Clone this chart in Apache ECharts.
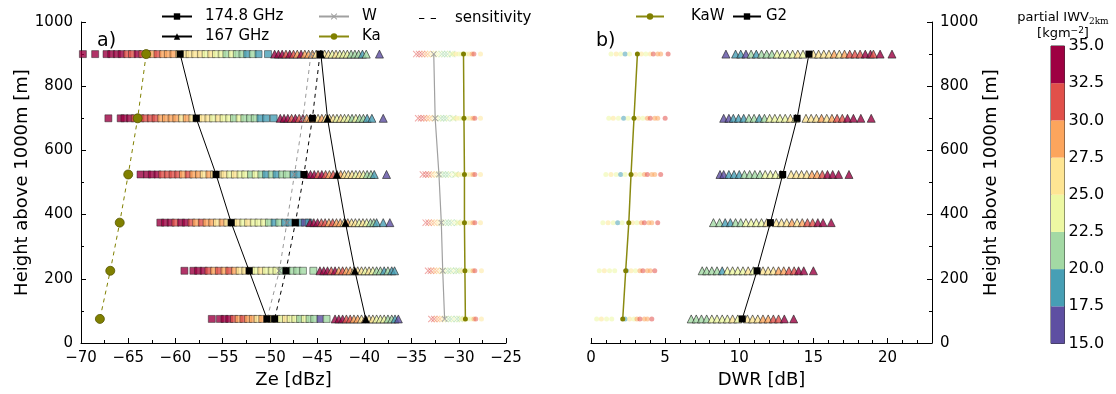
<!DOCTYPE html>
<html><head><meta charset="utf-8">
<script src="https://cdn.jsdelivr.net/npm/echarts@6/dist/echarts.min.js"></script>
<style>html,body{margin:0;padding:0;background:#fff}#c{width:1116px;height:394px}</style>
</head><body><div id="c"></div>
<script>
// ---- heights of the rows (m above 1000 m) ----
const heights = [900, 700, 525, 375, 225, 75];
// ---- colour scale (partial IWV 2km) ----
const cbEdges = [15, 17.5, 20, 22.5, 25, 27.5, 30, 32.5, 35];
const cbColors = ['#5e4fa2', '#479fb5', '#a3d9a4', '#edf8a3', '#fee593', '#fca55d', '#e1504a', '#9e0142'];

// ---- 174.8 GHz Ze [dBz, IWV] per row ----
const sq900 = [[-69.8,34],[-68.5,34],[-67.3,34],[-66.8,33],[-66.2,34],[-65.7,33],[-65.1,32],[-64.6,31],[-64.0,34],[-63.5,31],[-63.0,30],[-62.4,29],[-61.9,31],[-61.3,28],[-60.8,29],[-60.2,28],[-59.6,27],[-59.0,26],[-58.5,27],[-57.9,26],[-57.3,25],[-56.8,24],[-56.2,26],[-55.7,24],[-55.1,23],[-54.6,22],[-54.0,23],[-53.5,21],[-52.9,21],[-52.4,19],[-51.8,20],[-51.2,19],[-50.2,18]];
const sq700 = [[-67.1,34],[-65.8,34],[-65.4,33],[-64.8,34],[-64.3,31],[-63.7,32],[-63.2,31],[-62.6,30],[-62.1,31],[-61.5,29],[-61.0,28],[-60.4,29],[-59.9,28],[-59.3,27],[-58.8,28],[-58.2,26],[-57.6,27],[-57.1,25],[-56.5,26],[-56.0,24],[-55.4,25],[-54.9,24],[-54.3,23],[-53.8,22],[-53.2,23],[-52.7,21],[-52.1,21],[-51.6,20],[-51.0,19],[-50.4,19],[-49.6,18]];
const sq525 = [[-63.7,34],[-63.0,34],[-62.5,33],[-61.9,34],[-61.4,32],[-60.8,31],[-60.3,32],[-59.7,30],[-59.2,29],[-58.6,31],[-58.1,28],[-57.5,29],[-57.0,27],[-56.4,28],[-55.9,26],[-55.3,25],[-54.8,26],[-54.2,24],[-53.7,25],[-53.1,23],[-52.6,24],[-52.0,22],[-51.5,23],[-50.9,21],[-50.4,19],[-49.8,20],[-49.3,19],[-48.7,21],[-48.2,20],[-47.5,19],[-47.0,18]];
const sq375 = [[-61.6,34],[-61.1,33],[-60.5,34],[-60.0,32],[-59.4,34],[-58.9,33],[-58.3,31],[-57.8,29],[-57.2,30],[-56.7,28],[-56.1,29],[-55.6,27],[-55.0,28],[-54.5,26],[-53.9,25],[-53.4,26],[-52.8,24],[-52.3,25],[-51.7,23],[-51.2,24],[-50.6,23],[-50.1,22],[-49.5,19],[-49.0,21],[-48.4,19],[-47.9,18],[-47.3,20],[-46.8,19],[-46.3,16],[-45.9,18]];
const sq225 = [[-59.05,34],[-58.1,34],[-57.6,33],[-57.0,34],[-56.5,32],[-55.9,29],[-55.4,31],[-54.8,28],[-54.3,30],[-53.7,28],[-53.2,26],[-52.6,25],[-52.0,26],[-51.5,24],[-50.9,25],[-50.4,23],[-49.8,24],[-49.3,23],[-48.7,22],[-48.2,21],[-47.6,21],[-47.1,20],[-46.5,21],[-45.4,21]];
const sq75 = [[-56.15,34],[-55.3,34],[-54.8,33],[-54.3,34],[-53.8,31],[-53.3,29],[-52.8,31],[-52.3,28],[-51.8,29],[-51.3,27],[-50.8,28],[-50.3,26],[-49.8,25],[-49.3,26],[-48.8,24],[-48.3,25],[-47.8,23],[-47.3,24],[-46.8,22],[-46.3,23],[-45.8,21],[-45.3,21],[-44.65,16],[-44.0,21]];

// ---- 167 GHz Ze ----
const tri900 = [[-49.5,34],[-49.1,33],[-48.7,34],[-48.3,31],[-47.9,33],[-47.5,31],[-47.1,29],[-46.7,34],[-46.3,28],[-45.9,29],[-45.5,28],[-45.1,27],[-44.6,26],[-44.2,26],[-43.8,25],[-43.4,24],[-43.0,26],[-42.6,24],[-42.2,23],[-41.8,24],[-41.4,22],[-41.0,21],[-40.6,21],[-40.2,19],[-39.8,20],[-38.4,16]];
const tri700 = [[-48.9,34],[-48.5,33],[-48.1,34],[-47.7,31],[-47.3,33],[-46.9,30],[-46.5,34],[-46.1,29],[-45.7,28],[-45.3,29],[-44.9,27],[-44.5,28],[-44.1,26],[-43.7,25],[-43.3,26],[-42.9,24],[-42.5,25],[-42.1,23],[-41.7,24],[-41.3,22],[-40.9,23],[-40.5,21],[-40.1,20],[-39.7,19],[-39.2,19],[-38.0,16]];
const tri525 = [[-46.1,34],[-45.7,33],[-45.3,34],[-44.9,31],[-44.5,33],[-44.1,32],[-43.7,29],[-43.3,30],[-42.9,28],[-42.5,29],[-42.1,27],[-41.7,26],[-41.3,25],[-40.9,24],[-40.5,26],[-40.1,23],[-39.7,22],[-39.3,21],[-38.95,18],[-37.65,16]];
const tri375 = [[-45.75,34],[-45.35,33],[-44.95,34],[-44.55,31],[-44.15,32],[-43.75,29],[-43.35,30],[-42.95,28],[-42.55,29],[-42.15,27],[-41.75,28],[-41.35,26],[-40.95,25],[-40.55,24],[-40.15,26],[-39.75,23],[-39.35,22],[-39.0,21],[-38.7,19],[-38.0,18],[-37.3,16]];
const tri225 = [[-44.7,34],[-44.3,33],[-43.9,34],[-43.5,32],[-43.1,33],[-42.7,29],[-42.3,31],[-41.9,28],[-41.5,29],[-41.1,27],[-40.7,26],[-40.3,25],[-39.9,24],[-39.5,26],[-39.1,23],[-38.7,22],[-38.3,21],[-37.9,19],[-37.5,20],[-37.1,18],[-36.8,19]];
const tri75 = [[-43.1,34],[-42.7,33],[-42.3,34],[-41.9,31],[-41.5,30],[-41.1,29],[-40.7,28],[-40.3,27],[-39.9,29],[-39.5,26],[-39.1,25],[-38.7,24],[-38.3,23],[-37.9,24],[-37.5,22],[-37.1,21],[-36.75,19],[-36.4,16]];

// ---- W-band Ze ----
const w900 = [[-34.5,32],[-34.2,31],[-33.9,30],[-33.6,29],[-33.3,28],[-33.0,27],[-32.7,25],[-32.4,24],[-32.1,23],[-31.8,21],[-31.5,22],[-31.2,21],[-30.9,23],[-30.7,21]];
const w700 = [[-34.3,32],[-34.0,31],[-33.7,30],[-33.4,29],[-33.1,28],[-32.8,26],[-32.5,25],[-32.2,23],[-31.9,22],[-31.6,21],[-31.3,22],[-31.0,23],[-30.6,21]];
const w525 = [[-33.8,32],[-33.5,31],[-33.2,30],[-32.9,28],[-32.6,27],[-32.3,25],[-32.0,24],[-31.7,22],[-31.4,21],[-31.1,22],[-30.8,23],[-30.35,21]];
const w375 = [[-33.5,32],[-33.2,31],[-32.9,29],[-32.6,28],[-32.3,26],[-32.0,25],[-31.7,23],[-31.4,22],[-31.1,21],[-30.8,22],[-30.5,23],[-30.15,21]];
const w225 = [[-33.25,32],[-32.95,31],[-32.65,29],[-32.35,28],[-32.05,26],[-31.75,24],[-31.45,23],[-31.15,21],[-30.85,22],[-30.55,23],[-30.25,21],[-30.0,22]];
const w75 = [[-32.9,32],[-32.6,31],[-32.3,29],[-32.0,28],[-31.7,26],[-31.4,24],[-31.1,22],[-30.8,21],[-30.5,23],[-30.2,22],[-29.9,21],[-29.7,23]];

// ---- Ka-band Ze ----
const ka900 = [[-30.6,24],[-30.3,25],[-30.0,24],[-29.7,23],[-29.2,24],[-28.9,25],[-28.6,29],[-28.4,30],[-27.7,26]];
const ka700 = [[-30.5,24],[-30.2,25],[-29.9,24],[-29.6,23],[-29.1,24],[-28.8,25],[-28.5,29],[-28.3,30],[-27.7,26]];
const ka525 = [[-30.3,24],[-30.0,25],[-29.7,24],[-29.1,23],[-28.8,25],[-28.5,29],[-28.3,30],[-27.7,26]];
const ka375 = [[-30.1,24],[-29.8,25],[-29.6,24],[-29.1,23],[-28.8,25],[-28.5,29],[-28.3,30],[-27.7,26]];
const ka225 = [[-29.9,24],[-29.6,25],[-29.1,24],[-28.8,23],[-28.5,29],[-28.3,30],[-27.6,26]];
const ka75 = [[-29.7,24],[-29.5,25],[-29.0,24],[-28.7,23],[-28.4,29],[-28.2,30],[-27.6,26]];

// ---- row means / sensitivities (dBz) ----
const mean174 = [-59.5, -57.8, -55.7, -54.1, -52.2, -50.3];
const mean167 = [-44.6, -43.9, -42.9, -42.0, -41.0, -39.85];
const meanW = [-32.65, -32.5, -32.1, -31.85, -31.7, -31.5];
const meanKa = [-29.5, -29.45, -29.4, -29.4, -29.35, -29.3];
const sensG = [-44.7, -45.5, -46.4, -47.3, -48.3, -49.5];
const sensW = [-45.65, -46.5, -47.4, -48.2, -49.0, -50.3];
const sensKa = [-63.1, -64.0, -65.0, -65.9, -66.9, -68.0];

// ---- DWR KaW [dB, IWV] ----
const kaw900 = [[1.35,24],[1.7,25],[2.0,24],[2.3,19],[2.6,24],[3.4,25],[3.7,24],[4.0,26],[4.2,31],[4.5,29],[4.7,28],[5.2,31]];
const kaw700 = [[1.2,24],[1.5,25],[1.85,24],[2.2,19],[2.5,24],[3.2,25],[3.5,24],[3.8,28],[4.0,30],[4.3,29],[4.5,28],[5.0,31]];
const kaw525 = [[1.0,24],[1.35,25],[1.7,24],[2.0,19],[2.3,24],[3.0,25],[3.3,24],[3.6,28],[3.8,30],[4.1,29],[4.3,28],[4.7,31]];
const kaw375 = [[0.8,24],[1.15,25],[1.5,24],[1.8,19],[2.1,24],[2.8,25],[3.1,24],[3.4,28],[3.6,30],[3.9,29],[4.1,28],[4.5,31]];
const kaw225 = [[0.56,24],[0.9,25],[1.25,24],[1.6,24],[2.4,19],[2.7,25],[3.0,24],[3.3,28],[3.5,30],[3.8,29],[4.0,28],[4.3,31]];
const kaw75 = [[0.38,24],[0.7,25],[1.05,24],[1.4,24],[2.3,19],[2.6,25],[2.9,24],[3.1,28],[3.3,30],[3.6,29],[3.8,28],[4.1,31]];

// ---- DWR G2 [dB, IWV] ----
const g2_900 = [[9.1,16],[9.75,18],[10.1,19],[10.45,17],[10.8,20],[11.15,19],[11.5,21],[11.85,22],[12.2,21],[12.55,23],[12.9,24],[13.25,23],[13.6,24],[13.95,25],[14.3,24],[15.0,26],[15.35,25],[15.7,27],[16.05,26],[16.4,28],[16.75,27],[17.1,29],[17.45,30],[17.8,31],[18.15,30],[18.5,33],[18.85,34],[19.05,32],[19.5,34],[20.3,34]];
const g2_700 = [[8.95,16],[9.3,17],[9.6,18],[9.95,19],[10.3,18],[10.65,20],[11.0,21],[11.35,19],[11.7,22],[12.05,23],[12.4,24],[12.75,23],[13.1,24],[13.45,25],[13.8,24],[14.5,26],[14.85,25],[15.2,27],[15.55,28],[15.9,27],[16.25,29],[16.6,30],[16.95,31],[17.3,33],[17.7,34],[18.2,34],[18.9,34]];
const g2_525 = [[8.7,16],[8.95,17],[9.3,18],[9.65,19],[10.0,18],[10.35,20],[10.7,21],[11.05,22],[11.4,21],[11.75,23],[12.1,24],[12.45,23],[12.8,24],[13.5,25],[13.85,26],[14.2,27],[14.55,26],[14.9,28],[15.25,29],[15.6,31],[15.95,33],[16.3,34],[16.7,34],[17.4,34]];
const g2_375 = [[8.26,21],[8.67,20],[9.05,18],[9.4,19],[9.75,21],[10.1,22],[10.45,23],[10.8,24],[11.15,23],[11.5,24],[11.85,25],[12.5,26],[12.85,25],[13.2,27],[13.55,28],[13.9,27],[14.25,29],[14.6,30],[14.95,31],[15.3,33],[15.65,34],[16.2,34]];
const g2_225 = [[7.5,21],[7.8,20],[8.15,21],[8.5,22],[8.85,19],[9.2,23],[9.55,24],[9.9,23],[10.25,24],[10.6,25],[10.95,24],[11.6,26],[11.95,25],[12.3,27],[12.65,28],[13.0,29],[13.35,30],[13.7,31],[14.0,33],[14.35,34],[15.0,34]];
const g2_75 = [[6.76,21],[7.1,20],[7.45,22],[7.8,21],[8.15,23],[8.5,24],[8.85,23],[9.2,24],[9.55,25],[9.9,24],[10.55,26],[10.9,25],[11.25,27],[11.6,28],[11.95,29],[12.3,30],[12.65,31],[13.04,34],[13.67,34]];

const meanKaW = [3.13, 2.9, 2.7, 2.55, 2.34, 2.14];
const meanG2 = [14.7, 13.9, 12.93, 12.1, 11.2, 10.2];

// ---------- helpers ----------
function colorOf(v){ for(let i=0;i<cbColors.length;i++){ if(v<cbEdges[i+1]) return cbColors[i]; } return cbColors[cbColors.length-1]; }
function rowsToData(rows){ const out=[]; rows.forEach((r,i)=>r.forEach(p=>out.push({value:[p[0],heights[i],p[1]], itemStyle:{color:colorOf(p[1])}}))); return out; }
function meanData(xs){ return xs.map((x,i)=>[x,heights[i]]); }
const xSym = 'path://M1,0 L5,4 L9,0 L10,1 L6,5 L10,9 L9,10 L5,6 L1,10 L0,9 L4,5 L0,1 Z';
const dashIcon = 'path://M0,0h5v1h-5z M11,0h5v1h-5z';
const FONT = 'DejaVu Sans';
const minus = v => String(v).replace('-', '\u2212');
const plain = v => String(v);

const chart = echarts.init(document.getElementById('c'), null, {renderer:'canvas'});

const axisCommon = {
  axisLine:{show:true, onZero:false, lineStyle:{color:'#000', width:1}},
  axisTick:{show:true, inside:true, length:5, lineStyle:{color:'#000'}},
  minorTick:{show:true, splitNumber:2, length:3, lineStyle:{color:'#000'}},
  splitLine:{show:false},
  axisLabel:{color:'#000', fontFamily:FONT, fontSize:15, formatter:plain},
  nameTextStyle:{color:'#000', fontFamily:FONT, fontSize:18}
};

const series = [
  {type:'scatter', xAxisIndex:0, yAxisIndex:0, symbol:'rect', symbolSize:7, z:2, data:rowsToData([sq900,sq700,sq525,sq375,sq225,sq75]), itemStyle:{borderColor:'#222', borderWidth:0.6}},
  {type:'scatter', xAxisIndex:0, yAxisIndex:0, symbol:'triangle', symbolSize:8, z:2, data:rowsToData([tri900,tri700,tri525,tri375,tri225,tri75]), itemStyle:{borderColor:'#222', borderWidth:0.8}},
  {type:'scatter', xAxisIndex:0, yAxisIndex:0, symbol:xSym, symbolSize:7, z:2, data:rowsToData([w900,w700,w525,w375,w225,w75]), itemStyle:{opacity:0.5}},
  {type:'scatter', xAxisIndex:0, yAxisIndex:0, symbol:'circle', symbolSize:5, z:2, data:rowsToData([ka900,ka700,ka525,ka375,ka225,ka75]), itemStyle:{opacity:0.5}},
  {name:'174.8 GHz', type:'line', xAxisIndex:0, yAxisIndex:0, data:meanData(mean174), symbol:'rect', symbolSize:7, z:6, color:'#000', lineStyle:{color:'#000', width:1}, itemStyle:{color:'#000'}},
  {name:'167 GHz', type:'line', xAxisIndex:0, yAxisIndex:0, data:meanData(mean167), symbol:'triangle', symbolSize:8, z:6, color:'#000', lineStyle:{color:'#000', width:1}, itemStyle:{color:'#000'}},
  {name:'W', type:'line', xAxisIndex:0, yAxisIndex:0, data:meanData(meanW), symbol:xSym, symbolSize:6, z:6, color:'#a0a0a0', lineStyle:{color:'#a0a0a0', width:1.2}, itemStyle:{color:'#a0a0a0'}},
  {name:'Ka', type:'line', xAxisIndex:0, yAxisIndex:0, data:meanData(meanKa), symbol:'circle', symbolSize:5, z:6, color:'#808000', lineStyle:{color:'#8a8a10', width:1.5}, itemStyle:{color:'#808000'}},
  {name:'sensitivity', type:'line', xAxisIndex:0, yAxisIndex:0, data:[], symbol:'none', color:'#000', itemStyle:{color:'#000'}, lineStyle:{color:'#000', width:1, type:[4,4]}},
  {name:'sensG', type:'line', xAxisIndex:0, yAxisIndex:0, data:meanData(sensG), symbol:'rect', symbolSize:7, z:5, color:'#000', lineStyle:{color:'#000', width:1, type:[4,4]}, itemStyle:{color:'#000'}},
  {name:'sensW', type:'line', xAxisIndex:0, yAxisIndex:0, data:meanData(sensW), symbol:xSym, symbolSize:6, z:5, color:'#999', lineStyle:{color:'#999', width:1, type:[4,4]}, itemStyle:{color:'#888'}},
  {name:'sensKa', type:'line', xAxisIndex:0, yAxisIndex:0, data:meanData(sensKa), symbol:'circle', symbolSize:9, z:5, color:'#808000', lineStyle:{color:'#808000', width:1, type:[4,4]}, itemStyle:{color:'#808000', borderColor:'#555500', borderWidth:0.8}},
  // panel b
  {type:'scatter', xAxisIndex:1, yAxisIndex:1, symbol:'circle', symbolSize:5, z:2, data:rowsToData([kaw900,kaw700,kaw525,kaw375,kaw225,kaw75]), itemStyle:{opacity:0.55}},
  {type:'scatter', xAxisIndex:1, yAxisIndex:1, symbol:'triangle', symbolSize:8, z:2, data:rowsToData([g2_900,g2_700,g2_525,g2_375,g2_225,g2_75]), itemStyle:{borderColor:'#222', borderWidth:0.8}},
  {name:'KaW', type:'line', xAxisIndex:1, yAxisIndex:1, data:meanData(meanKaW), symbol:'circle', symbolSize:5, z:6, color:'#808000', lineStyle:{color:'#8a8a10', width:1.5}, itemStyle:{color:'#808000'}},
  {name:'G2', type:'line', xAxisIndex:1, yAxisIndex:1, data:meanData(meanG2), symbol:'rect', symbolSize:7, z:6, color:'#000', lineStyle:{color:'#000', width:1}, itemStyle:{color:'#000'}},
  // colorbar base (invisible)
  {type:'bar', xAxisIndex:2, yAxisIndex:2, stack:'cb', data:[15], barWidth:'100%', itemStyle:{color:'rgba(0,0,0,0)'}, silent:true}
];
cbColors.forEach((c,i)=>{
  series.push({type:'bar', xAxisIndex:2, yAxisIndex:2, stack:'cb', data:[cbEdges[i+1]-cbEdges[i]], barWidth:'100%', itemStyle:{color:c}, silent:true});
});

const legendText = {color:'#000', fontFamily:FONT, fontSize:15, padding:[0,0,0,8]};

const option = {
  animation:false,
  backgroundColor:'#fff',
  textStyle:{fontFamily:FONT},
  grid:[
    {left:81, top:22, width:425, height:321.5},
    {left:591, top:22, width:341, height:321.5},
    {left:1051, top:46, width:13.5, height:297.5, show:true, borderColor:'#333', borderWidth:1, backgroundColor:'transparent'}
  ],
  xAxis:[
    Object.assign({}, axisCommon, {gridIndex:0, type:'value', min:-70, max:-25, interval:5, name:'Ze [dBz]', nameLocation:'middle', nameGap:28,
      axisLabel:Object.assign({}, axisCommon.axisLabel, {formatter:minus, margin:8})}),
    Object.assign({}, axisCommon, {gridIndex:1, type:'value', min:0, max:23, interval:5, name:'DWR [dB]', nameLocation:'middle', nameGap:28,
      minorTick:{show:true, splitNumber:5, length:3, lineStyle:{color:'#000'}},
      axisLabel:Object.assign({}, axisCommon.axisLabel, {showMaxLabel:false, margin:8})}),
    {gridIndex:2, type:'category', data:[''], show:false}
  ],
  yAxis:[
    Object.assign({}, axisCommon, {gridIndex:0, type:'value', min:0, max:1000, interval:200, position:'left', name:'Height above 1000m [m]', nameLocation:'middle', nameGap:46, nameRotate:90}),
    Object.assign({}, axisCommon, {gridIndex:1, type:'value', min:0, max:1000, interval:200, position:'right', name:'Height above 1000m [m]', nameLocation:'middle', nameGap:50, nameRotate:90}),
    {gridIndex:2, type:'value', min:15, max:35, interval:2.5, position:'right',
      axisLine:{show:false}, axisTick:{show:false}, splitLine:{show:false},
      axisLabel:{color:'#000', fontFamily:FONT, fontSize:16, margin:4, formatter:v=>v.toFixed(1)}}
  ],
  legend:[
    {data:['174.8 GHz','167 GHz'], orient:'vertical', left:156, top:4, itemWidth:30, itemHeight:8, itemGap:5, textStyle:legendText, selectedMode:false},
    {data:['W','Ka'], orient:'vertical', left:313, top:4, itemWidth:30, itemHeight:8, itemGap:5, textStyle:legendText, selectedMode:false},
    {data:[{name:'sensitivity', icon:dashIcon}], orient:'vertical', left:414, top:6, itemWidth:17, itemHeight:1.3, itemGap:5, textStyle:Object.assign({}, legendText, {padding:[0,0,0,14]}), selectedMode:false},
    {data:['KaW'], orient:'horizontal', left:630, top:4, itemWidth:28, itemHeight:8, textStyle:Object.assign({}, legendText, {padding:[0,0,0,22]}), selectedMode:false},
    {data:['G2'], orient:'horizontal', left:727, top:4, itemWidth:28, itemHeight:8, textStyle:Object.assign({}, legendText, {padding:[0,0,0,0]}), selectedMode:false}
  ],
  title:[
    {text:'a)', left:92, top:27, textStyle:{fontFamily:FONT, fontSize:19, fontWeight:'normal', color:'#000'}},
    {text:'b)', left:591, top:27, textStyle:{fontFamily:FONT, fontSize:19, fontWeight:'normal', color:'#000'}},
    {text:'partial IWV{s|2km}\n[kgm{p|\u22122}]', left:1058, top:5, textAlign:'center',
      textStyle:{fontFamily:FONT, fontSize:13, fontWeight:'normal', color:'#000', lineHeight:16, align:'center',
        rich:{s:{fontSize:9, fontFamily:'DejaVu Serif', verticalAlign:'bottom', padding:[6,0,0,0]}, p:{fontSize:9, verticalAlign:'top', padding:[0,0,6,0]}}}}
  ],
  series:series
};
chart.setOption(option);
</script></body></html>
